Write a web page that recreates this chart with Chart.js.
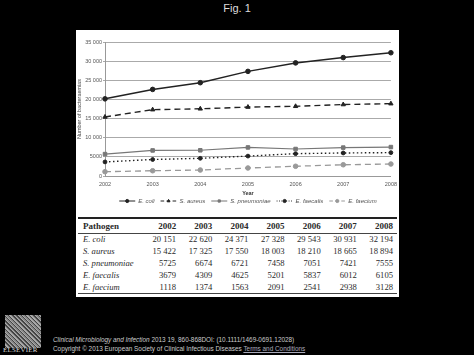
<!DOCTYPE html>
<html>
<head>
<meta charset="utf-8">
<script src="https://cdn.jsdelivr.net/npm/chart.js@4"></script>
<style>
  html, body { margin: 0; padding: 0; background: #000; }
  body { width: 474px; height: 355px; position: relative; overflow: hidden; font-family: "Liberation Sans", Arial, sans-serif; }
  #title { position: absolute; left: 0; width: 474px; top: 2px; text-align: center; color: #ddd; font-size: 11px; }
  #panel { position: absolute; left: 76px; top: 30px; width: 323px; height: 267px; background: #fff; }
  #chartBox { position: absolute; left: 0; top: 0; width: 323px; height: 180px; }
  table { position: absolute; left: 2px; top: 187px; width: 319px; border-collapse: collapse;
          font-family: "Liberation Serif", "Times New Roman", serif; color: #2a2a2a; font-size: 8.6px; }
  th, td { padding: 0 4px 0 5px; text-align: right; height: 11.8px; line-height: 11px; }
  th { font-weight: bold; height: 14px; border-top: 2px solid #222; border-bottom: 1px solid #444; font-size: 9px; }
  th:first-child, td:first-child { text-align: left; }
  td:first-child { font-style: italic; }
  tr:last-child td { border-bottom: 1px solid #444; }
  #logo { position: absolute; left: 5px; top: 315px; width: 36px; height: 33px;
          background: repeating-linear-gradient(45deg, #888 0 1px, #444 1px 2px, #aaa 2px 3px); }
  #logoText { position: absolute; left: 3px; top: 346px; font-family: "Liberation Serif", serif; font-size: 7px; color: #ddd; letter-spacing: 0.2px; }
  .foot { position: absolute; left: 53px; font-size: 6.4px; color: #ccc; white-space: nowrap; }
  .foot a { color: #aab; text-decoration: underline; }
</style>
</head>
<body>
<div id="title">Fig. 1</div>
<div id="panel">
  <div id="chartBox"><canvas id="chart" width="323" height="180"></canvas></div>
  <table id="tbl"></table>
</div>
<div id="logo"></div>
<div id="logoText">ELSEVIER</div>
<div class="foot" style="top:336px"><i>Clinical Microbiology and Infection</i> 2013 19, 860-868DOI: (10.1111/1469-0691.12028)</div>
<div class="foot" style="top:345px">Copyright © 2013 European Society of Clinical Infectious Diseases <a>Terms and Conditions</a></div>

<script>
const years = ['2002', '2003', '2004', '2005', '2006', '2007', '2008'];
const pathogens = ['E. coli', 'S. aureus', 'S. pneumoniae', 'E. faecalis', 'E. faecium'];
const eColi = [20151, 22620, 24371, 27328, 29543, 30931, 32194];
const sAureus = [15422, 17325, 17550, 18003, 18210, 18665, 18894];
const sPneumoniae = [5725, 6674, 6721, 7458, 7051, 7421, 7555];
const eFaecalis = [3679, 4309, 4625, 5201, 5837, 6012, 6105];
const eFaecium = [1118, 1374, 1563, 2091, 2541, 2938, 3128];
const yTicks = [0, 5000, 10000, 15000, 20000, 25000, 30000, 35000];

const allSeries = [eColi, sAureus, sPneumoniae, eFaecalis, eFaecium];

function fmt(n) {
  // thousands with a space, but only for 5+ digits
  const s = String(n);
  return s.length > 4 ? s.slice(0, -3) + ' ' + s.slice(-3) : s;
}

// table
const tbl = document.getElementById('tbl');
let html = '<tr><th>Pathogen</th>' + years.map(y => `<th>${y}</th>`).join('') + '</tr>';
pathogens.forEach((p, i) => {
  html += `<tr><td>${p}</td>` + allSeries[i].map(v => `<td>${fmt(v)}</td>`).join('') + '</tr>';
});
tbl.innerHTML = html;

const styles = [
  { color: '#222', dash: [], point: 'circle', r: 2.3, w: 1.5 },
  { color: '#222', dash: [6, 4], point: 'triangle', r: 2.5, w: 1.4 },
  { color: '#777', dash: [], point: 'rect', r: 2.5, w: 1.2 },
  { color: '#222', dash: [1.5, 2.5], point: 'circle', r: 1.9, w: 1.4 },
  { color: '#999', dash: [6, 4], point: 'circle', r: 2.3, w: 1.3 }
];

const datasets = pathogens.map((p, i) => ({
  label: p,
  data: allSeries[i],
  borderColor: styles[i].color,
  backgroundColor: styles[i].color,
  borderDash: styles[i].dash,
  borderWidth: styles[i].w,
  pointStyle: styles[i].point,
  pointRadius: styles[i].r,
  pointBorderWidth: 1,
  tension: 0
}));

// legend drawn like the original: short line + marker, then italic name
const lineLegend = {
  id: 'lineLegend',
  afterDraw(chart) {
    const ctx = chart.ctx;
    const y = 171;
    ctx.save();
    ctx.font = 'italic 6px "Liberation Sans", Arial, sans-serif';
    const seg = 16;
    const gap = 6;
    const widths = datasets.map(d => seg + 3 + ctx.measureText(d.label).width);
    const total = widths.reduce((a, b) => a + b, 0) + gap * (datasets.length - 1);
    let x = (chart.chartArea.left + chart.chartArea.right) / 2 - total / 2;
    datasets.forEach((d, i) => {
      ctx.strokeStyle = d.borderColor;
      ctx.lineWidth = 1;
      ctx.setLineDash(d.borderDash.map(v => v * 0.6));
      ctx.beginPath();
      ctx.moveTo(x, y);
      ctx.lineTo(x + seg, y);
      ctx.stroke();
      ctx.setLineDash([]);
      ctx.fillStyle = d.backgroundColor;
      Chart.helpers.drawPoint(ctx, { pointStyle: d.pointStyle, radius: 1.6, borderWidth: 0.8 }, x + seg / 2, y);
      ctx.fillStyle = '#555';
      ctx.textBaseline = 'middle';
      ctx.fillText(d.label, x + seg + 3, y);
      x += widths[i] + gap;
    });
    ctx.restore();
  }
};

new Chart(document.getElementById('chart'), {
  type: 'line',
  data: { labels: years, datasets },
  options: {
    responsive: false,
    animation: false,
    layout: { padding: { left: 0, right: 7, top: 12, bottom: 12 } },
    plugins: { legend: { display: false }, tooltip: { enabled: false } },
    scales: {
      x: {
        offset: false,
        grid: { display: false, drawTicks: true, tickLength: 3, color: '#999' },
        border: { color: '#999' },
        ticks: { color: '#555', font: { size: 5.5 }, padding: 2, maxRotation: 0 },
        title: { display: true, text: 'Year', color: '#333', font: { size: 5.5, weight: 'bold' }, padding: 1 },
        afterFit(s) { s.height = 22; }
      },
      y: {
        min: 0,
        max: 35000,
        afterBuildTicks(s) { s.ticks = yTicks.map(v => ({ value: v })); },
        grid: { color: '#aaa', lineWidth: 1, tickLength: 2 },
        border: { color: '#999' },
        ticks: { color: '#555', font: { size: 5.5 }, padding: 1, callback: v => fmt(v) },
        title: { display: true, text: 'Number of bacteraemias', color: '#444', font: { size: 5.5 }, padding: 0 },
        afterFit(s) { s.width = 29; }
      }
    }
  },
  plugins: [lineLegend]
});
</script>
</body>
</html>
